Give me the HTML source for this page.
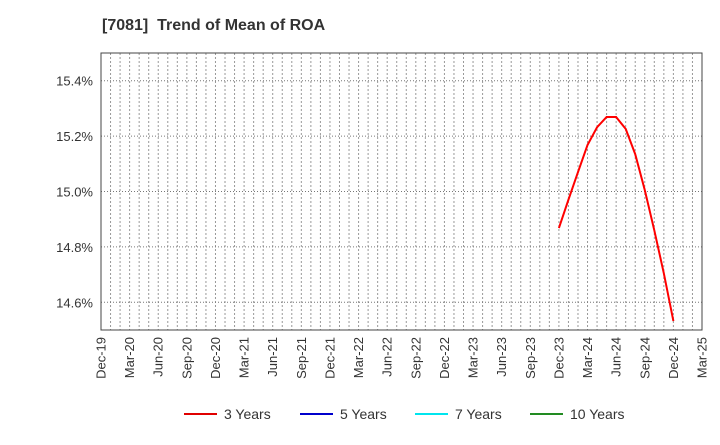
<!DOCTYPE html>
<html><head><meta charset="utf-8"><style>
body{margin:0;background:#fff;font-family:"Liberation Sans",sans-serif;}
svg text{font-family:"Liberation Sans",sans-serif;fill:#333;}
</style></head><body>
<svg width="720" height="440" xmlns="http://www.w3.org/2000/svg">
<text x="102" y="30" font-size="16" font-weight="bold" xml:space="preserve" style="white-space:pre">[7081]  Trend of Mean of ROA</text>
<g id="grid"></g>
<g id="axes"></g>
<g id="series"></g>
<g id="legend"></g>
</svg>
<script>
const xLabels=["Dec-19","Mar-20","Jun-20","Sep-20","Dec-20","Mar-21","Jun-21","Sep-21","Dec-21","Mar-22","Jun-22","Sep-22","Dec-22","Mar-23","Jun-23","Sep-23","Dec-23","Mar-24","Jun-24","Sep-24","Dec-24","Mar-25"];
const yTicks=[14.6,14.8,15.0,15.2,15.4];
const startMonth=48;
const roa3=[14.868,14.97,15.07,15.168,15.232,15.269,15.269,15.226,15.135,15.005,14.86,14.705,14.532];
const L=101,R=702,T=53,B=330,yMin=14.5,yMax=15.5,totalMonths=63;
const NS="http://www.w3.org/2000/svg";
function xs(m){return L+(R-L)*m/totalMonths;}
function ys(v){return B-(B-T)*(v-yMin)/(yMax-yMin);}
function mk(t,a,p){const e=document.createElementNS(NS,t);for(const k in a)e.setAttribute(k,a[k]);p.appendChild(e);return e;}
const grid=document.getElementById('grid'),axes=document.getElementById('axes'),ser=document.getElementById('series'),leg=document.getElementById('legend');
for(let m=1;m<totalMonths;m++){
 const l=mk('line',{x1:xs(m),x2:xs(m),y1:T,y2:B,stroke:'#999','stroke-width':1,'stroke-dasharray':'2,2'},grid);
 
 
}
yTicks.forEach(v=>{
 const l=mk('line',{x1:L,x2:R,y1:ys(v),y2:ys(v),stroke:'#777','stroke-width':1,'stroke-dasharray':'1,2'},grid);
 
 
 const t=mk('text',{x:L-8,y:ys(v)+5,'text-anchor':'end','font-size':13},axes);
 t.textContent=v.toFixed(1)+'%';
 
 
});
const fr=mk('rect',{x:L,y:T,width:R-L,height:B-T,fill:'none',stroke:'#444','stroke-width':1},axes);


xLabels.forEach((s,i)=>{
 const x=xs(i*3);
 const t=mk('text',{x:0,y:0,'text-anchor':'end','font-size':13,transform:`translate(${x+4.5},${B+7}) rotate(-90)`},axes);
 t.textContent=s;
 
 
});
const pts=roa3.map((v,i)=>xs(startMonth+i).toFixed(1)+','+ys(v).toFixed(1)).join(' ');
const pl=mk('polyline',{points:pts,fill:'none',stroke:'#ff0000','stroke-width':2},ser);


const legItems=[["3 Years","#e00000",184],["5 Years","#0000cc",300],["7 Years","#00e5ee",415],["10 Years","#228b22",530]];
legItems.forEach(([n,c,x])=>{
 const g=mk('g',{},leg);
 
 
 mk('line',{x1:x,x2:x+33,y1:414,y2:414,stroke:c,'stroke-width':2},g);
 const t=mk('text',{x:x+40,y:419,'font-size':14},g);
 t.textContent=n;
});
</script>
</body></html>
